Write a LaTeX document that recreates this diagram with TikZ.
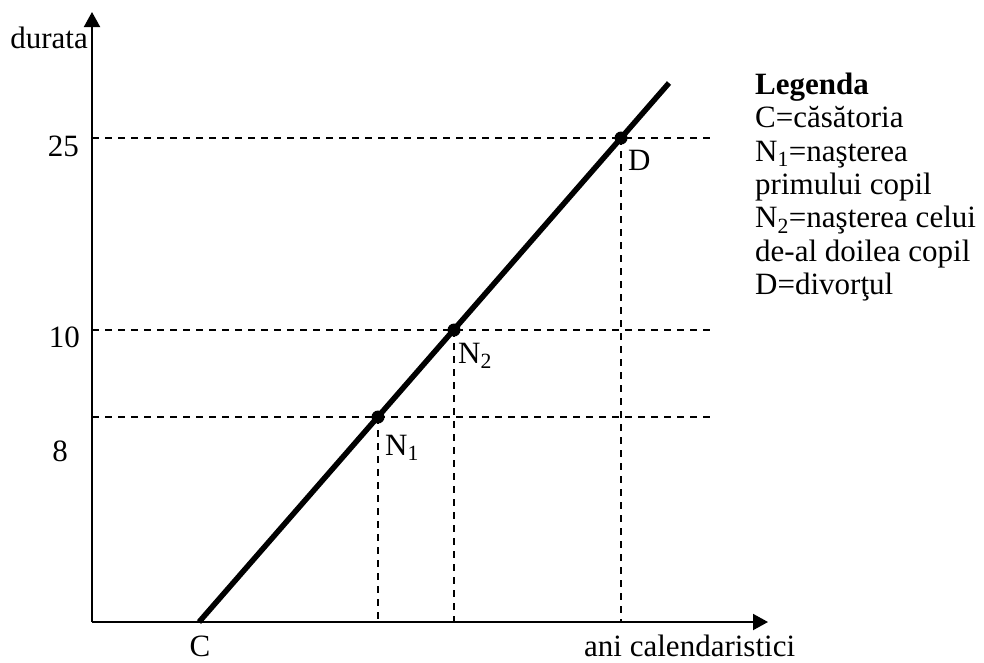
\documentclass[tikz,border=0pt]{standalone}
\usepackage{fontspec}
\setmainfont{Liberation Serif}
\usetikzlibrary{arrows.meta}
\begin{document}
\begin{tikzpicture}[x=1pt,y=-1pt,
  lbl/.style={inner sep=0pt,font=\fontsize{31}{33}\selectfont},
  axis/.style={line width=2pt,-{Triangle[length=15pt,width=16pt]}},
  guide/.style={line width=1.5pt,dash pattern=on 7pt off 6pt},
  life/.style={line width=5.5pt},
  dot/.style={circle,fill=black,inner sep=0pt,minimum size=13pt}]
\useasboundingbox (0,0) rectangle (984,662);
% axes
\coordinate (O) at (92,622);
\coordinate (ytip) at (92,12);
\coordinate (xtip) at (768,622);
\draw[axis] (O) -- (ytip);
\draw[axis] (O) -- (xtip);
% events
\coordinate (C) at (199,622);
\coordinate (top) at (669,83);
\coordinate (N1) at (378,417);
\coordinate (N2) at (454,330);
\coordinate (D) at (621,138);
% horizontal guides
\coordinate (h25) at (714,138);
\coordinate (h10) at (714,330);
\coordinate (h8) at (714,417);
\draw[guide] (O |- h25) -- (h25);
\draw[guide] (O |- h10) -- (h10);
\draw[guide] (O |- h8) -- (h8);
% vertical guides
\draw[guide] (N1) -- (N1 |- O);
\draw[guide] (N2) -- (N2 |- O);
\draw[guide] (D) -- (D |- O);
% life line
\draw[life] (C) -- (top);
\node[dot] (dN1) at (N1) {};
\node[dot] (dN2) at (N2) {};
\node[dot] (dD) at (D) {};
% axis labels
\node[lbl,anchor=base east] (ylab) at (88,48) {durata};
\node[lbl,anchor=base west] (xlab) at (584,656) {ani calendaristici};
\node[lbl,anchor=base east] (t25) at (79,156) {25};
\node[lbl,anchor=base east] (t10) at (80,347) {10};
\node[lbl,anchor=base east] (t8) at (68,461) {8};
\node[lbl,anchor=base] (lC) at (200,656) {C};
\node[lbl,anchor=base west] (lN1) at (385,455) {N\textsubscript{1}};
\node[lbl,anchor=base west] (lN2) at (458,363) {N\textsubscript{2}};
\node[lbl,anchor=base west] (lD) at (628,170) {D};
% legend
\node[lbl,anchor=base west] (leg1) at (755,94) {\textbf{Legenda}};
\node[lbl,anchor=base west] (leg2) at (755,127.5) {C=căsătoria};
\node[lbl,anchor=base west] (leg3) at (755,161) {N\textsubscript{1}=naşterea};
\node[lbl,anchor=base west] (leg4) at (755,194) {primului copil};
\node[lbl,anchor=base west] (leg5) at (755,227.5) {N\textsubscript{2}=naşterea celui};
\node[lbl,anchor=base west] (leg6) at (755,261) {de-al doilea copil};
\node[lbl,anchor=base west] (leg7) at (755,294) {D=divorţul};
\end{tikzpicture}
\end{document}
